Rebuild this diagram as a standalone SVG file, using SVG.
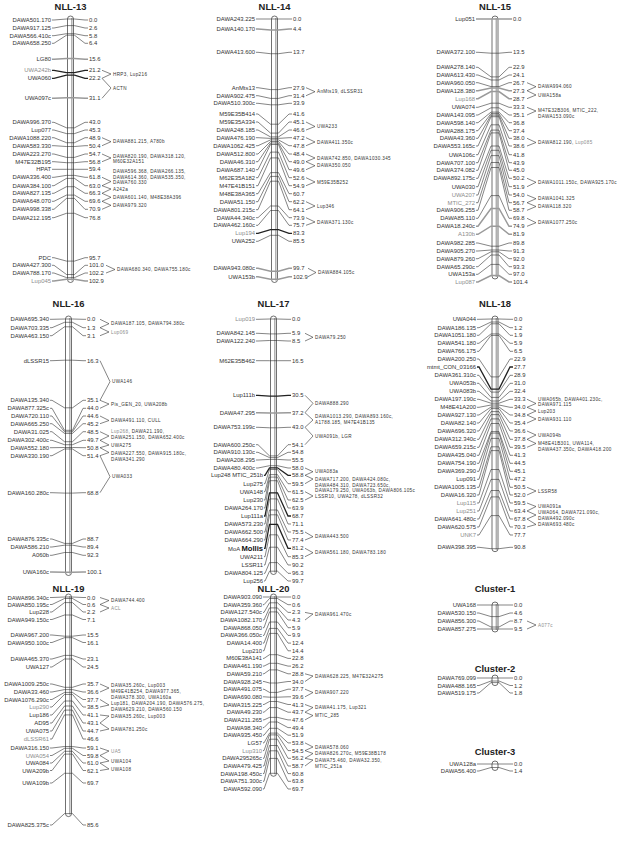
<svg xmlns="http://www.w3.org/2000/svg" width="618" height="846" viewBox="0 0 618 846">
<style>
.t{font-family:"Liberation Sans",Arial,sans-serif;font-size:5.9px;fill:#333}
.r{text-anchor:end}
.a{font-size:4.6px;letter-spacing:0.35px}
.g{fill:#8c8c8c}
.h{font-family:"Liberation Sans",Arial,sans-serif;font-size:9.4px;font-weight:bold;text-anchor:middle;fill:#222}
.c{fill:none;stroke:#333;stroke-width:0.6}
.k{fill:none;stroke:#222;stroke-width:1.3}
.q{fill:none;stroke:#9a9a9a;stroke-width:1.5}
.bar{fill:#fff;stroke:#333;stroke-width:0.7}
.bs{stroke:#b0b0b0;stroke-width:1.5}
</style>
<rect width="618" height="846" fill="#fff"/>

<!-- NLL-13 -->
<g id="nll-13">
<text class="h" x="70.5" y="10">NLL-13</text>
<rect class="bar" x="67.5" y="16" width="6" height="266.5" rx="3"/>
<line class="bs" x1="71.8" y1="18" x2="71.8" y2="280.5"/>
<g class="connectors">
<path class="c" d="M52 20h2L66.5 19H74.5L85 20h3M52 28h2L66.5 25.6H74.5L85 28h3M52 35.7h2L66.5 33.7H74.5L85 35.7h3M52 43.3h2L66.5 35.2H74.5L85 43.3h3M52 122.3h2L66.5 127.8H74.5L85 122.3h3M52 130h2L66.5 133.6H74.5L85 130h3M52 137.7h2L66.5 142.7H74.5L85 137.7h3M52 145.7h2L66.5 146.5H74.5L85 145.7h3M52 154h2L66.5 157.4H74.5L85 154h3M52 161.7h2L66.5 162.7H74.5L85 161.7h3M52 169.3h2L66.5 169.3H74.5L85 169.3h3M52 177.3h2L66.5 175.4H74.5L85 177.3h3M52 185.7h2L66.5 178.4H74.5L85 185.7h3M52 193.3h2L66.5 186.7H74.5L85 193.3h3M52 201.3h2L66.5 195.1H74.5L85 201.3h3M52 209.3h2L66.5 198.4H74.5L85 209.3h3M52 217.7h2L66.5 213.3H74.5L85 217.7h3M52 257.7h2L66.5 261.1H74.5L85 257.7h3M52 265.3h2L66.5 274.5H74.5L85 265.3h3M52 273h2L66.5 277.6H74.5L85 273h3"/>
<path class="k" d="M52 70.3h2L66.5 72.6H74.5L85 70.3h3M52 78.3h2L66.5 75.2H74.5L85 78.3h3"/>
<path class="q" d="M52 59.3h2L66.5 58.5H74.5L85 59.3h3M52 98.3h2L66.5 97.7H74.5L85 98.3h3M52 281h2L66.5 279.3H74.5L85 281h3"/>
<path class="c" d="M102 70.3L111 74L102 78.3M102 78.3L111 88L102 98.3M102 137.7L111 141.7L102 145.7M102 154L111 158L102 161.7M102 177.3L111 181.5L102 185.7M102 185.7L111 189L102 193.3M102 193.3L111 197.3L102 201.3M102 201.3L111 205.3L102 209.3M106 265.3L115 269.5L106 273"/>
</g>
<g class="t r">
<text x="51" y="22">DAWA501.170</text><text x="51" y="30">DAWA917.125</text><text x="51" y="37.7">DAWA566.410c</text><text x="51" y="45.3">DAWA658.250</text><text x="51" y="61.3">LG80</text><text x="51" y="72.3" class="g">UWA242b</text><text x="51" y="80.3">UWA060</text><text x="51" y="100.3">UWA097c</text><text x="51" y="124.3">DAWA996.370</text><text x="51" y="132">Lup077</text><text x="51" y="139.7">DAWA1088.220</text><text x="51" y="147.7">DAWA583.330</text><text x="51" y="156">DAWA223.270</text><text x="51" y="163.7">M47E32B195</text><text x="51" y="171.3">HPAT</text><text x="51" y="179.3">DAWA336.400</text><text x="51" y="187.7">DAWA384.100</text><text x="51" y="195.3">DAWA827.135</text><text x="51" y="203.3">DAWA648.070</text><text x="51" y="211.3">DAWA998.338</text><text x="51" y="219.7">DAWA212.195</text><text x="51" y="259.7">PDC</text><text x="51" y="267.3">DAWA427.300</text><text x="51" y="275">DAWA788.170</text><text x="51" y="283" class="g">Lup045</text>
</g>
<g class="t">
<text x="89" y="22">0.0</text><text x="89" y="30">2.6</text><text x="89" y="37.7">5.8</text><text x="89" y="45.3">6.4</text><text x="89" y="61.3">15.6</text><text x="89" y="72.3">21.2</text><text x="89" y="80.3">22.2</text><text x="89" y="100.3">31.1</text><text x="89" y="124.3">43.0</text><text x="89" y="132">45.3</text><text x="89" y="139.7">48.9</text><text x="89" y="147.7">50.4</text><text x="89" y="156">54.7</text><text x="89" y="163.7">56.8</text><text x="89" y="171.3">59.4</text><text x="89" y="179.3">61.8</text><text x="89" y="187.7">63.0</text><text x="89" y="195.3">66.3</text><text x="89" y="203.3">69.6</text><text x="89" y="211.3">70.9</text><text x="89" y="219.7">76.8</text><text x="89" y="259.7">95.7</text><text x="89" y="267.3">101.0</text><text x="89" y="275">102.2</text><text x="89" y="283">102.9</text>
</g>
<g class="t a">
<text x="113" y="75.6">HRP3, Lup216</text><text x="113" y="89.6">ACTN</text><text x="113" y="143.3">DAWA881.215, A780b</text><text x="113" y="157.6">DAWA820.190, DAWA318.120,</text><text x="113" y="163.3">M60E32A151</text><text x="113" y="173.1">DAWA596.368, DAWA266.135,</text><text x="113" y="178.7">DAWA614.360, DAWA535.350,</text><text x="113" y="184.2">DAWA760.330</text><text x="113" y="190.6">A242a</text><text x="113" y="198.9">DAWA601.140, M48E38A396</text><text x="113" y="206.9">DAWA979.320</text><text x="117" y="271.1">DAWA680.340, DAWA755.180c</text>
</g>
</g>

<!-- NLL-14 -->
<g id="nll-14">
<text class="h" x="274.5" y="10">NLL-14</text>
<rect class="bar" x="271.5" y="16" width="6" height="266.5" rx="3"/>
<line class="bs" x1="275.8" y1="18" x2="275.8" y2="280.5"/>
<g class="connectors">
<path class="c" d="M256 19h2L270.5 19H278.5L289 19h3M256 52.3h2L270.5 53.7H278.5L289 52.3h3M256 87.7h2L270.5 89.6H278.5L289 87.7h3M256 95.7h2L270.5 98.4H278.5L289 95.7h3M256 103.3h2L270.5 104.8H278.5L289 103.3h3M256 114h2L270.5 124.2H278.5L289 114h3M256 122h2L270.5 133.1H278.5L289 122h3M256 130h2L270.5 136.9H278.5L289 130h3M256 137.7h2L270.5 138.4H278.5L289 137.7h3M256 145.7h2L270.5 139.9H278.5L289 145.7h3M256 154h2L270.5 141.5H278.5L289 154h3M256 161.7h2L270.5 143H278.5L289 161.7h3M256 169.7h2L270.5 144.5H278.5L289 169.7h3M256 177.7h2L270.5 152.1H278.5L289 177.7h3M256 185.7h2L270.5 157.9H278.5L289 185.7h3M256 193.7h2L270.5 172.6H278.5L289 193.7h3M256 201.7h2L270.5 176.4H278.5L289 201.7h3M256 209.7h2L270.5 181.2H278.5L289 209.7h3M256 217.7h2L270.5 206H278.5L289 217.7h3M256 225.3h2L270.5 210.5H278.5L289 225.3h3M256 241.3h2L270.5 235.3H278.5L289 241.3h3"/>
<path class="k" d="M256 233.3h2L270.5 229.7H278.5L289 233.3h3"/>
<path class="q" d="M256 29h2L270.5 30.1H278.5L289 29h3M256 268.3h2L270.5 271.2H278.5L289 268.3h3M256 276.7h2L270.5 279.3H278.5L289 276.7h3"/>
<path class="c" d="M306 87.7L315 91.7L306 95.7M306 122L315 126.5L306 130M306 137.7L315 142L306 145.7M306 154L315 158L306 161.7M306 161.7L315 165.7L306 169.7M306 177.7L315 182L306 185.7M306 201.7L315 206L306 209.7M306 217.7L315 222L306 225.3M308 268.3L316 272.5L308 276.7"/>
</g>
<g class="t r">
<text x="255" y="21">DAWA243.225</text><text x="255" y="31">DAWA140.170</text><text x="255" y="54.3">DAWA413.600</text><text x="255" y="89.7">AnMts13</text><text x="255" y="97.7">DAWA902.475</text><text x="255" y="105.3">DAWA510.300c</text><text x="255" y="116">M59E35B414</text><text x="255" y="124">M59E35A334</text><text x="255" y="132">DAWA248.185</text><text x="255" y="139.7">DAWA476.190</text><text x="255" y="147.7">DAWA1062.425</text><text x="255" y="156">DAWA512.800</text><text x="255" y="163.7">DAWA46.310</text><text x="255" y="171.7">DAWA687.140</text><text x="255" y="179.7">M62E35A182</text><text x="255" y="187.7">M47E41B151</text><text x="255" y="195.7">M48E38A365</text><text x="255" y="203.7">DAWA51.150</text><text x="255" y="211.7">DAWA801.215c</text><text x="255" y="219.7">DAWA44.340c</text><text x="255" y="227.3">DAWA462.160c</text><text x="255" y="235.3" class="g">Lup194</text><text x="255" y="243.3">UWA252</text><text x="255" y="270.3">DAWA943.080c</text><text x="255" y="278.7">UWA153b</text>
</g>
<g class="t">
<text x="293" y="21">0.0</text><text x="293" y="31">4.4</text><text x="293" y="54.3">13.7</text><text x="293" y="89.7">27.9</text><text x="293" y="97.7">31.4</text><text x="293" y="105.3">33.9</text><text x="293" y="116">41.6</text><text x="293" y="124">45.1</text><text x="293" y="132">46.6</text><text x="293" y="139.7">47.2</text><text x="293" y="147.7">47.8</text><text x="293" y="156">48.4</text><text x="293" y="163.7">49.0</text><text x="293" y="171.7">49.6</text><text x="293" y="179.7">52.6</text><text x="293" y="187.7">54.9</text><text x="293" y="195.7">60.7</text><text x="293" y="203.7">62.2</text><text x="293" y="211.7">64.1</text><text x="293" y="219.7">73.9</text><text x="293" y="227.3">75.7</text><text x="293" y="235.3">83.3</text><text x="293" y="243.3">85.5</text><text x="293" y="270.3">99.7</text><text x="293" y="278.7">102.9</text>
</g>
<g class="t a">
<text x="317" y="93.3">AnMts19, dLSSR31</text><text x="317" y="128.1">UWA233</text><text x="317" y="143.6">DAWA411.350c</text><text x="317" y="159.6">DAWA742.850, DAWA1030.345</text><text x="317" y="167.3">DAWA350.050</text><text x="317" y="183.6">M59E35B252</text><text x="317" y="207.6">Lup346</text><text x="317" y="223.6">DAWA371.130c</text><text x="318" y="274.1">DAWA884.105c</text>
</g>
</g>

<!-- NLL-15 -->
<g id="nll-15">
<text class="h" x="495" y="10">NLL-15</text>
<rect class="bar" x="492" y="16" width="6" height="263" rx="3"/>
<line class="bs" x1="496.3" y1="18" x2="496.3" y2="277"/>
<g class="connectors">
<path class="c" d="M476 52.3h2L491 53.2H499L509 52.3h3M476 67.3h2L491 76.9H499L509 67.3h3M476 75h2L491 80H499L509 75h3M476 82.7h2L491 86.6H499L509 82.7h3M476 107.3h2L491 103.2H499L509 107.3h3M476 115h2L491 107.8H499L509 115h3M476 122.7h2L491 112.1H499L509 122.7h3M476 130.7h2L491 113.6H499L509 130.7h3M476 138.3h2L491 115.1H499L509 138.3h3M476 146h2L491 116.7H499L509 146h3M476 154.7h2L491 124.8H499L509 154.7h3M476 162.7h2L491 130.1H499L509 162.7h3M476 170.3h2L491 132.9H499L509 170.3h3M476 178.3h2L491 146H499L509 178.3h3M476 186.7h2L491 150.3H499L509 186.7h3M476 195h2L491 155.6H499L509 195h3M476 202.7h2L491 162.5H499L509 202.7h3M476 210.3h2L491 167.5H499L509 210.3h3M476 218.3h2L491 195.6H499L509 218.3h3M476 243h2L491 246.2H499L509 243h3M476 251h2L491 250H499L509 251h3M476 258.7h2L491 251.8H499L509 258.7h3M476 266.7h2L491 255H499L509 266.7h3M476 274.3h2L491 264.4H499L509 274.3h3"/>
<path class="q" d="M476 19h2L491 19H499L509 19h3M476 90.7h2L491 88.1H499L509 90.7h3M476 98.7h2L491 91.6H499L509 98.7h3M476 226.3h2L491 208.5H499L509 226.3h3M476 234.3h2L491 226.2H499L509 234.3h3M476 282h2L491 275.5H499L509 282h3"/>
<path class="c" d="M527 82.7L536 86.7L527 90.7M527 90.7L536 95L527 98.7M527 107.3L536 111L527 115M527 138.3L536 142.5L527 146M527 178.3L536 182.3L527 186.7M527 195L536 198.7L527 202.7M527 202.7L536 206.5L527 210.3M527 218.3L536 222.7L527 226.3"/>
</g>
<g class="t r">
<text x="475" y="21">Lup051</text><text x="475" y="54.3">DAWA372.100</text><text x="475" y="69.3">DAWA278.140</text><text x="475" y="77">DAWA613.430</text><text x="475" y="84.7">DAWA960.050</text><text x="475" y="92.7">DAWA128.380</text><text x="475" y="100.7" class="g">Lup168</text><text x="475" y="109.3">UWA074</text><text x="475" y="117">DAWA143.095</text><text x="475" y="124.7">DAWA598.140</text><text x="475" y="132.7">DAWA288.175</text><text x="475" y="140.3">DAWA43.360</text><text x="475" y="148">DAWA553.165c</text><text x="475" y="156.7">UWA106c</text><text x="475" y="164.7">DAWA707.100</text><text x="475" y="172.3">DAWA374.082</text><text x="475" y="180.3">DAWA892.175c</text><text x="475" y="188.7">UWA030</text><text x="475" y="197" class="g">UWA207</text><text x="475" y="204.7" class="g">MTIC_272</text><text x="475" y="212.3">DAWA906.255</text><text x="475" y="220.3">DAWA85.110</text><text x="475" y="228.3">DAWA18.240c</text><text x="475" y="236.3" class="g">A130b</text><text x="475" y="245">DAWA982.285</text><text x="475" y="253">DAWA905.270</text><text x="475" y="260.7">DAWA879.260</text><text x="475" y="268.7">DAWA65.290c</text><text x="475" y="276.3">UWA153a</text><text x="475" y="284" class="g">Lup087</text>
</g>
<g class="t">
<text x="513" y="21">0.0</text><text x="513" y="54.3">13.5</text><text x="513" y="69.3">22.9</text><text x="513" y="77">24.1</text><text x="513" y="84.7">26.7</text><text x="513" y="92.7">27.3</text><text x="513" y="100.7">28.7</text><text x="513" y="109.3">33.3</text><text x="513" y="117">35.1</text><text x="513" y="124.7">36.8</text><text x="513" y="132.7">37.4</text><text x="513" y="140.3">38.0</text><text x="513" y="148">38.6</text><text x="513" y="156.7">41.8</text><text x="513" y="164.7">43.9</text><text x="513" y="172.3">45.0</text><text x="513" y="180.3">50.2</text><text x="513" y="188.7">51.9</text><text x="513" y="197">54.0</text><text x="513" y="204.7">56.7</text><text x="513" y="212.3">58.7</text><text x="513" y="220.3">69.8</text><text x="513" y="228.3">74.9</text><text x="513" y="236.3">81.9</text><text x="513" y="245">89.8</text><text x="513" y="253">91.3</text><text x="513" y="260.7">92.0</text><text x="513" y="268.7">93.3</text><text x="513" y="276.3">97.0</text><text x="513" y="284">101.4</text>
</g>
<g class="t a">
<text x="538" y="88.3">DAWA994.060</text><text x="538" y="96.6">UWA158a</text><text x="538" y="111.6">M47E32B306, MTIC_222,</text><text x="538" y="117.6">DAWA153.090c</text><text x="538" y="144.1">DAWA812.190, <tspan class="g">Lup085</tspan></text><text x="538" y="183.9">DAWA1011.150c, DAWA925.170c</text><text x="538" y="200.3">DAWA1041.325</text><text x="538" y="208.1">DAWA118.320</text><text x="538" y="224.3">DAWA1077.250c</text>
</g>
</g>

<!-- NLL-16 -->
<g id="nll-16">
<text class="h" x="68.5" y="307">NLL-16</text>
<rect class="bar" x="65.5" y="316" width="6" height="259.5" rx="3"/>
<line class="bs" x1="69.8" y1="318" x2="69.8" y2="573.5"/>
<g class="connectors">
<path class="c" d="M50 319.3h2L64.5 319H72.5L83 319.3h3M50 327.7h2L64.5 322.3H72.5L83 327.7h3M50 335.7h2L64.5 326.8H72.5L83 335.7h3M50 360.7h2L64.5 360.2H72.5L83 360.7h3M50 400.3h2L64.5 407.8H72.5L83 400.3h3M50 408.3h2L64.5 430.3H72.5L83 408.3h3M50 416h2L64.5 431.8H72.5L83 416h3M50 423.7h2L64.5 433.4H72.5L83 423.7h3M50 431.7h2L64.5 441.7H72.5L83 431.7h3M50 440.3h2L64.5 444.7H72.5L83 440.3h3M50 447.7h2L64.5 447.5H72.5L83 447.7h3M50 455.7h2L64.5 449H72.5L83 455.7h3M50 492.7h2L64.5 493.1H72.5L83 492.7h3M50 539h2L64.5 543.4H72.5L83 539h3M50 547h2L64.5 545.2H72.5L83 547h3M50 555.3h2L64.5 552.5H72.5L83 555.3h3"/>
<path class="q" d="M50 572h2L64.5 572.3H72.5L83 572h3"/>
<path class="c" d="M100 319.3L109 323.7L100 327.7M100 327.7L109 332L100 335.7M100 360.7L110 381.7L100 400.3M100 400.3L109 404L100 408.3M100 416L109 420.5L100 423.7M100 431.7L109 436L100 440.3M100 440.3L109 445L100 447.7M100 447.7L109 452.5L100 455.7M100 455.7L110 476.7L100 492.7"/>
</g>
<g class="t r">
<text x="49" y="321.3">DAWA695.340</text><text x="49" y="329.7">DAWA703.335</text><text x="49" y="337.7">DAWA463.150</text><text x="49" y="362.7">dLSSR15</text><text x="49" y="402.3">DAWA135.340</text><text x="49" y="410.3">DAWA877.325c</text><text x="49" y="418">DAWA720.110</text><text x="49" y="425.7">DAWA665.250</text><text x="49" y="433.7">DAWA31.025</text><text x="49" y="442.3">DAWA302.400c</text><text x="49" y="449.7">DAWA552.180</text><text x="49" y="457.7">DAWA330.190</text><text x="49" y="494.7">DAWA160.280c</text><text x="49" y="541">DAWA876.335c</text><text x="49" y="549">DAWA586.210</text><text x="49" y="557.3">A060b</text><text x="49" y="574">UWA160c</text>
</g>
<g class="t">
<text x="87" y="321.3">0.0</text><text x="87" y="329.7">1.3</text><text x="87" y="337.7">3.1</text><text x="87" y="362.7">16.3</text><text x="87" y="402.3">35.1</text><text x="87" y="410.3">44.0</text><text x="87" y="418">44.6</text><text x="87" y="425.7">45.2</text><text x="87" y="433.7">48.5</text><text x="87" y="442.3">49.7</text><text x="87" y="449.7">50.8</text><text x="87" y="457.7">51.4</text><text x="87" y="494.7">68.8</text><text x="87" y="541">88.7</text><text x="87" y="549">89.4</text><text x="87" y="557.3">92.3</text><text x="87" y="574">100.1</text>
</g>
<g class="t a">
<text x="111" y="325.3">DAWA187.105, DAWA794.380c</text><text x="111" y="333.6" class="g">Lup069</text><text x="112" y="383.3">UWA146</text><text x="111" y="405.6">Pis_GEN_20, UWA208b</text><text x="111" y="422.1">DAWA491.110, CULL</text><text x="111" y="433.1"><tspan class="g">Lup268</tspan>, DAWA21.190,</text><text x="111" y="438.9">DAWA251.150, DAWA652.400c</text><text x="111" y="446.6">UWA275</text><text x="111" y="454.9">DAWA227.550, DAWA915.180c,</text><text x="111" y="460.9">DAWA341.290</text><text x="112" y="478.3">UWA033</text>
</g>
</g>

<!-- NLL-17 -->
<g id="nll-17">
<text class="h" x="273.5" y="307">NLL-17</text>
<rect class="bar" x="270.5" y="316" width="6" height="258.5" rx="3"/>
<line class="bs" x1="274.8" y1="318" x2="274.8" y2="572.5"/>
<g class="connectors">
<path class="c" d="M256 319.3h2L269.5 319H277.5L288 319.3h3M256 333.3h2L269.5 333.9H277.5L288 333.3h3M256 341h2L269.5 340.5H277.5L288 341h3M256 360.7h2L269.5 360.7H277.5L288 360.7h3M256 427.3h2L269.5 427.8H277.5L288 427.3h3M256 444.7h2L269.5 455.9H277.5L288 444.7h3M256 452.3h2L269.5 457.6H277.5L288 452.3h3M256 460h2L269.5 459.4H277.5L288 460h3M256 468h2L269.5 465.7H277.5L288 468h3M264 483.7h1L269.5 469.5H277.5L288 483.7h3M264 491.7h1L269.5 474.6H277.5L288 491.7h3M264 500h1L269.5 477.1H277.5L288 500h3M264 508h1L269.5 480.7H277.5L288 508h3M264 524h1L269.5 498.9H277.5L288 524h3M264 532h1L269.5 510H277.5L288 532h3M264 540h1L269.5 514.8H277.5L288 540h3M264 556.7h1L269.5 534.8H277.5L288 556.7h3M264 565h1L269.5 547.2H277.5L288 565h3M264 573.3h1L269.5 562.6H277.5L288 573.3h3M264 581h1L269.5 571.2H277.5L288 581h3"/>
<path class="k" d="M256 395.3h2L269.5 396.2H277.5L288 395.3h3M264 475.3h1L269.5 467.8H277.5L288 475.3h3M264 516h1L269.5 492.8H277.5L288 516h3M264 548.3h1L269.5 524.4H277.5L288 548.3h3"/>
<path class="q" d="M256 412.7h2L269.5 413.1H277.5L288 412.7h3"/>
<path class="c" d="M305 333.3L313 337.3L305 341M305 395.3L313 403.3L305 412.7M305 412.7L313 420L305 427.3M305 427.3L313 436L305 444.7M305 468L313 471.7L305 475.3M305 475.3L313 479L305 483.7M305 491.7L313 496L305 500M305 532L313 536.7L305 540M305 548.3L313 552.7L305 556.7"/>
</g>
<g class="t r">
<text x="255" y="321.3" class="g">Lup019</text><text x="255" y="335.3">DAWA842.145</text><text x="255" y="343">DAWA122.240</text><text x="255" y="362.7">M62E35B462</text><text x="255" y="397.3">Lup111b</text><text x="255" y="414.7">DAWA47.295</text><text x="255" y="429.3">DAWA753.199c</text><text x="255" y="446.7">DAWA600.250c</text><text x="255" y="454.3">DAWA910.130c</text><text x="255" y="462">DAWA208.295</text><text x="255" y="470">DAWA480.400c</text><text x="263" y="477.3">Lup248 MTIC_251b</text><text x="263" y="485.7">Lup275</text><text x="263" y="493.7">UWA148</text><text x="263" y="502">Lup230</text><text x="263" y="510">DAWA264.170</text><text x="263" y="518">Lup111a</text><text x="263" y="526">DAWA573.230</text><text x="263" y="534">DAWA662.500</text><text x="263" y="542">DAWA664.290</text><text x="263" y="550.8">MoA <tspan style="font-size:7.6px;font-weight:bold;fill:#111">Mollis</tspan></text><text x="263" y="558.7">UWA211</text><text x="263" y="567">LSSR11</text><text x="263" y="575.3">DAWA804.125</text><text x="263" y="583">Lup256</text>
</g>
<g class="t">
<text x="292" y="321.3">0.0</text><text x="292" y="335.3">5.9</text><text x="292" y="343">8.5</text><text x="292" y="362.7">16.5</text><text x="292" y="397.3">30.5</text><text x="292" y="414.7">37.2</text><text x="292" y="429.3">43.0</text><text x="292" y="446.7">54.1</text><text x="292" y="454.3">54.8</text><text x="292" y="462">55.5</text><text x="292" y="470">58.0</text><text x="292" y="477.3">58.8</text><text x="292" y="485.7">59.5</text><text x="292" y="493.7">61.5</text><text x="292" y="502">62.5</text><text x="292" y="510">63.9</text><text x="292" y="518">68.7</text><text x="292" y="526">71.1</text><text x="292" y="534">75.5</text><text x="292" y="542">77.4</text><text x="292" y="550.3">81.2</text><text x="292" y="558.7">85.3</text><text x="292" y="567">90.2</text><text x="292" y="575.3">96.3</text><text x="292" y="583">99.7</text>
</g>
<g class="t a">
<text x="315" y="338.9">DAWA79.250</text><text x="315" y="404.9">DAWA888.290</text><text x="315" y="418.3">DAWA1013.290, DAWA893.160c,</text><text x="315" y="423.9">A1788.185, M47E41B135</text><text x="315" y="437.6">UWA091b, LGR</text><text x="315" y="473.3">UWA083a</text><text x="315" y="480.6">DAWA717.200, DAWA424.080c,</text><text x="315" y="486.6">DAWA484.310, DAWA723.650c,</text><text x="315" y="492.3">DAWA179.250, UWA063b, DAWA806.105c</text><text x="315" y="497.9">LSSR10, UWA278, dLSSR32</text><text x="315" y="538.3">DAWA443.500</text><text x="315" y="554.3">DAWA561.180, DAWA783.180</text>
</g>
</g>

<!-- NLL-18 -->
<g id="nll-18">
<text class="h" x="495" y="307">NLL-18</text>
<rect class="bar" x="492" y="316" width="6" height="235.7" rx="3"/>
<line class="bs" x1="496.3" y1="318" x2="496.3" y2="549.7"/>
<g class="connectors">
<path class="c" d="M477 319.3h2L491 319H499L510 319.3h3M477 327.7h2L491 322H499L510 327.7h3M477 335.3h2L491 323.8H499L510 335.3h3M477 343.3h2L491 333.9H499L510 343.3h3M477 351.3h2L491 335.4H499L510 351.3h3M477 359h2L491 376.9H499L510 359h3M477 375.3h2L491 392.1H499L510 375.3h3M477 383.3h2L491 397.4H499L510 383.3h3M477 391.3h2L491 401H499L510 391.3h3M477 399.3h2L491 403.2H499L510 399.3h3M477 407.3h2L491 405H499L510 407.3h3M477 415h2L491 407H499L510 415h3M477 423h2L491 408.6H499L510 423h3M477 431h2L491 411.6H499L510 431h3M477 439.3h2L491 414.6H499L510 439.3h3M477 447.3h2L491 418.9H499L510 447.3h3M477 455.3h2L491 423.5H499L510 455.3h3M477 463.3h2L491 431.6H499L510 463.3h3M477 471.3h2L491 433.1H499L510 471.3h3M477 479.3h2L491 438.4H499L510 479.3h3M477 487.3h2L491 446.8H499L510 487.3h3M477 495h2L491 450.6H499L510 495h3M477 503h2L491 469.5H499L510 503h3M477 511h2L491 479.4H499L510 511h3M477 519h2L491 490.5H499L510 519h3M477 527h2L491 496.9H499L510 527h3M477 535h2L491 515.6H499L510 535h3M477 547.3h2L491 548.7H499L510 547.3h3"/>
<path class="k" d="M477 367h2L491 389.1H499L510 367h3"/>
<path class="c" d="M527 399.3L536 403.5L527 407.3M527 407.3L536 411L527 415M527 415L536 419L527 423M527 431L536 435L527 439.3M527 439.3L536 443.5L527 447.3M527 487.3L536 491L527 495M527 503L536 506.5L527 511M527 511L536 515L527 519M527 519L536 524.5L527 527"/>
</g>
<g class="t r">
<text x="476" y="321.3">UWA044</text><text x="476" y="329.7">DAWA186.135</text><text x="476" y="337.3">DAWA1051.180</text><text x="476" y="345.3">DAWA541.180</text><text x="476" y="353.3">DAWA766.175</text><text x="476" y="361">DAWA200.250</text><text x="476" y="369">mtmt_CON_03166</text><text x="476" y="377.3">DAWA361.310c</text><text x="476" y="385.3">UWA053b</text><text x="476" y="393.3">UWA083b</text><text x="476" y="401.3">DAWA197.190c</text><text x="476" y="409.3">M48E41A200</text><text x="476" y="417">DAWA927.130</text><text x="476" y="425">DAWA82.140</text><text x="476" y="433">DAWA696.320</text><text x="476" y="441.3">DAWA312.340c</text><text x="476" y="449.3">DAWA659.215c</text><text x="476" y="457.3">DAWA435.040</text><text x="476" y="465.3">DAWA754.190</text><text x="476" y="473.3">DAWA369.290</text><text x="476" y="481.3">Lup091</text><text x="476" y="489.3">DAWA1005.135</text><text x="476" y="497">DAWA16.320</text><text x="476" y="505" class="g">Lup115</text><text x="476" y="513" class="g">Lup251</text><text x="476" y="521">DAWA641.480c</text><text x="476" y="529">DAWA620.575</text><text x="476" y="537" class="g">UNK7</text><text x="476" y="549.3">DAWA398.395</text>
</g>
<g class="t">
<text x="514" y="321.3">0.0</text><text x="514" y="329.7">1.2</text><text x="514" y="337.3">1.9</text><text x="514" y="345.3">5.9</text><text x="514" y="353.3">6.5</text><text x="514" y="361">22.9</text><text x="514" y="369">27.7</text><text x="514" y="377.3">28.9</text><text x="514" y="385.3">31.0</text><text x="514" y="393.3">32.4</text><text x="514" y="401.3">33.3</text><text x="514" y="409.3">34.0</text><text x="514" y="417">34.8</text><text x="514" y="425">35.4</text><text x="514" y="433">36.6</text><text x="514" y="441.3">37.8</text><text x="514" y="449.3">39.5</text><text x="514" y="457.3">41.3</text><text x="514" y="465.3">44.5</text><text x="514" y="473.3">45.1</text><text x="514" y="481.3">47.2</text><text x="514" y="489.3">50.5</text><text x="514" y="497">52.0</text><text x="514" y="505">59.5</text><text x="514" y="513">63.4</text><text x="514" y="521">67.8</text><text x="514" y="529">70.3</text><text x="514" y="537">77.7</text><text x="514" y="549.3">90.8</text>
</g>
<g class="t a">
<text x="538" y="400.6">UWA065b, DAWA401.230c,</text><text x="538" y="406.1">DAWA971.115</text><text x="538" y="412.6">Lup203</text><text x="538" y="420.6">DAWA931.110</text><text x="538" y="436.6">UWA094b</text><text x="538" y="444.9">M48E41B301, UWA114,</text><text x="538" y="450.6">DAWA437.350c, DAWA418.200</text><text x="538" y="492.6">LSSR58</text><text x="538" y="508.1">UWA091a</text><text x="538" y="514.3">UWA064, DAWA721.090c,</text><text x="538" y="520.3">DAWA492.090c</text><text x="538" y="526.1">DAWA693.480c</text>
</g>
</g>

<g transform="translate(0,8)">
<!-- NLL-19 -->
<g id="nll-19">
<text class="h" x="68.5" y="584">NLL-19</text>
<rect class="bar" x="65.5" y="586" width="6" height="222.6" rx="3"/>
<line class="bs" x1="69.8" y1="588" x2="69.8" y2="806.6"/>
<g class="connectors">
<path class="c" d="M50 589.5h2L64.5 589H72.5L83 589.5h3M50 596.5h2L64.5 590.5H72.5L83 596.5h3M50 604h2L64.5 594.6H72.5L83 604h3M50 611.5h2L64.5 607H72.5L83 611.5h3M50 627h2L64.5 628.2H72.5L83 627h3M50 634.5h2L64.5 629.7H72.5L83 634.5h3M50 651h2L64.5 647.4H72.5L83 651h3M50 659h2L64.5 651H72.5L83 659h3M50 676h2L64.5 679.3H72.5L83 676h3M50 684h2L64.5 681.6H72.5L83 684h3M50 691.5h2L64.5 684.4H72.5L83 691.5h3M50 699h2L64.5 686.4H72.5L83 699h3M50 707h2L64.5 693H72.5L83 707h3M50 715h2L64.5 698H72.5L83 715h3M50 723h2L64.5 702.1H72.5L83 723h3M50 731h2L64.5 706.9H72.5L83 731h3M50 740h2L64.5 738.5H72.5L83 740h3M50 747.5h2L64.5 740.3H72.5L83 747.5h3M50 755h2L64.5 743.3H72.5L83 755h3M50 762.5h2L64.5 746.1H72.5L83 762.5h3M50 775h2L64.5 765.3H72.5L83 775h3M50 817h2L64.5 805.6H72.5L83 817h3"/>
<path class="c" d="M100 589.5L109 592.5L100 596.5M100 596.5L109 600L100 604M100 676L109 680L100 684M100 691.5L109 697L100 699M100 707L109 708L100 715M100 715L109 721L100 723M100 740L109 743L100 747.5M100 747.5L109 753L100 755M100 755L109 761L100 762.5"/>
</g>
<g class="t r">
<text x="49" y="591.5">DAWA896.340c</text><text x="49" y="598.5">DAWA850.195c</text><text x="49" y="606">Lup228</text><text x="49" y="613.5">DAWA949.150c</text><text x="49" y="629">DAWA967.200</text><text x="49" y="636.5">DAWA950.100c</text><text x="49" y="653">DAWA465.370</text><text x="49" y="661">UWA127</text><text x="49" y="678">DAWA1009.250c</text><text x="49" y="686">DAWA33.460</text><text x="49" y="693.5">DAWA1076.290c</text><text x="49" y="701" class="g">Lup290</text><text x="49" y="709">Lup186</text><text x="49" y="717">AD95</text><text x="49" y="725">UWA075</text><text x="49" y="733" class="g">dLSSR61</text><text x="49" y="742">DAWA316.150</text><text x="49" y="749.5" class="g">UWA054</text><text x="49" y="757">UWA084</text><text x="49" y="764.5">UWA209b</text><text x="49" y="777">UWA109b</text><text x="49" y="819">DAWA825.375c</text>
</g>
<g class="t">
<text x="87" y="591.5">0.0</text><text x="87" y="598.5">0.6</text><text x="87" y="606">2.2</text><text x="87" y="613.5">7.1</text><text x="87" y="629">15.5</text><text x="87" y="636.5">16.1</text><text x="87" y="653">23.1</text><text x="87" y="661">24.5</text><text x="87" y="678">35.7</text><text x="87" y="686">36.6</text><text x="87" y="693.5">37.7</text><text x="87" y="701">38.5</text><text x="87" y="709">41.1</text><text x="87" y="717">43.1</text><text x="87" y="725">44.7</text><text x="87" y="733">46.6</text><text x="87" y="742">59.1</text><text x="87" y="749.5">59.8</text><text x="87" y="757">61.0</text><text x="87" y="764.5">62.1</text><text x="87" y="777">69.7</text><text x="87" y="819">85.6</text>
</g>
<g class="t a">
<text x="111" y="594.1">DAWA744.400</text><text x="111" y="601.6" class="g">ACL</text><text x="111" y="678.6">DAWA35.260c, Lup003</text><text x="111" y="684.6">M49E41B254, DAWA977.365,</text><text x="111" y="690.6">DAWA378.300, UWA160a</text><text x="111" y="696.6">Lup181, DAWA204.190, DAWA576.275,</text><text x="111" y="702.6">DAWA629.210, DAWA560.150</text><text x="111" y="709.6">DAWA35.260c, Lup003</text><text x="111" y="722.6">DAWA781.250c</text><text x="111" y="744.6" class="g">UA5</text><text x="111" y="754.6">UWA104</text><text x="111" y="762.6">UWA108</text>
</g>
</g>

<!-- NLL-20 -->
<g id="nll-20">
<text class="h" x="273.5" y="584">NLL-20</text>
<rect class="bar" x="270.5" y="586" width="6" height="182.3" rx="3"/>
<line class="bs" x1="274.8" y1="588" x2="274.8" y2="766.3"/>
<g class="connectors">
<path class="c" d="M263 589h1L269.5 589H277.5L288 589h3M263 596.7h1L269.5 590.5H277.5L288 596.7h3M263 604.4h1L269.5 594.8H277.5L288 604.4h3M263 612h1L269.5 599.9H277.5L288 612h3M263 619.7h1L269.5 603.9H277.5L288 619.7h3M263 627.4h1L269.5 614H277.5L288 627.4h3M263 635.1h1L269.5 620.4H277.5L288 635.1h3M263 642.8h1L269.5 625.4H277.5L288 642.8h3M263 650.4h1L269.5 646.7H277.5L288 650.4h3M263 658.1h1L269.5 655.3H277.5L288 658.1h3M263 665.8h1L269.5 661.9H277.5L288 665.8h3M263 673.5h1L269.5 675H277.5L288 673.5h3M263 681.2h1L269.5 684.4H277.5L288 681.2h3M263 688.8h1L269.5 689.2H277.5L288 688.8h3M263 696.5h1L269.5 693.5H277.5L288 696.5h3M263 704.2h1L269.5 699.6H277.5L288 704.2h3M263 711.9h1L269.5 709.4H277.5L288 711.9h3M263 719.6h1L269.5 714H277.5L288 719.6h3M263 727.2h1L269.5 720.3H277.5L288 727.2h3M263 734.9h1L269.5 725.1H277.5L288 734.9h3M263 742.6h1L269.5 726.9H277.5L288 742.6h3M263 750.3h1L269.5 731.2H277.5L288 750.3h3M263 758h1L269.5 737.5H277.5L288 758h3M263 765.6h1L269.5 742.8H277.5L288 765.6h3M263 773.3h1L269.5 750.4H277.5L288 773.3h3M263 781h1L269.5 765.3H277.5L288 781h3"/>
<path class="c" d="M305 604.4L313 606L305 612M305 665.8L313 668L305 673.5M305 681.2L313 684.5L305 688.8M305 696.5L313 699.5L305 704.2M305 704.2L313 707.5L305 711.9M305 734.9L313 739L305 742.6M305 742.6L313 745.5L305 750.3M305 750.3L313 752L305 758"/>
</g>
<g class="t r">
<text x="262" y="591">DAWA903.090</text><text x="262" y="598.7">DAWA359.360</text><text x="262" y="606.4">DAWA127.540c</text><text x="262" y="614">DAWA1082.170</text><text x="262" y="621.7">DAWA868.050</text><text x="262" y="629.4">DAWA366.050c</text><text x="262" y="637.1">DAWA14.400</text><text x="262" y="644.8">Lup210</text><text x="262" y="652.4">M60E38A141</text><text x="262" y="660.1">DAWA461.190</text><text x="262" y="667.8">DAWA59.210</text><text x="262" y="675.5">DAWA928.245</text><text x="262" y="683.2">DAWA491.075</text><text x="262" y="690.8">DAWA690.080</text><text x="262" y="698.5">DAWA315.225</text><text x="262" y="706.2">DAWA49.230</text><text x="262" y="713.9">DAWA211.265</text><text x="262" y="721.6">DAWA98.340</text><text x="262" y="729.2">DAWA935.450</text><text x="262" y="736.9">LG57</text><text x="262" y="744.6" class="g">Lup310</text><text x="262" y="752.3">DAWA295265c</text><text x="262" y="760">DAWA479.425</text><text x="262" y="767.6">DAWA198.450c</text><text x="262" y="775.3">DAWA751.300c</text><text x="262" y="783">DAWA592.090</text>
</g>
<g class="t">
<text x="292" y="591">0.0</text><text x="292" y="598.7">0.6</text><text x="292" y="606.4">2.3</text><text x="292" y="614">4.3</text><text x="292" y="621.7">5.9</text><text x="292" y="629.4">9.9</text><text x="292" y="637.1">12.4</text><text x="292" y="644.8">14.4</text><text x="292" y="652.4">22.8</text><text x="292" y="660.1">26.2</text><text x="292" y="667.8">28.8</text><text x="292" y="675.5">34.0</text><text x="292" y="683.2">37.7</text><text x="292" y="690.8">39.6</text><text x="292" y="698.5">41.3</text><text x="292" y="706.2">43.7</text><text x="292" y="713.9">47.6</text><text x="292" y="721.6">49.4</text><text x="292" y="729.2">51.9</text><text x="292" y="736.9">53.8</text><text x="292" y="744.6">54.5</text><text x="292" y="752.3">56.2</text><text x="292" y="760">58.7</text><text x="292" y="767.6">60.8</text><text x="292" y="775.3">63.8</text><text x="292" y="783">69.7</text>
</g>
<g class="t a">
<text x="315" y="607.6">DAWA961.470c</text><text x="315" y="669.6">DAWA628.225, M47E32A275</text><text x="315" y="686.1">DAWA907.220</text><text x="315" y="701.1">DAWA41.175, Lup321</text><text x="315" y="709.1">MTIC_285</text><text x="315" y="740.6">DAWA578.060</text><text x="315" y="747.1">DAWA826.270c, M59E38B178</text><text x="315" y="753.6">DAWA75.460, DAWA32.350,</text><text x="315" y="759.6">MTIC_251a</text>
</g>
</g>

<!-- Cluster-1 -->
<g id="cluster-1">
<text class="h" x="495" y="584">Cluster-1</text>
<rect class="bar" x="492" y="594" width="6" height="30" rx="3"/>
<line class="bs" x1="496.3" y1="596" x2="496.3" y2="622"/>
<g class="connectors">
<path class="c" d="M477 597h2L491 597H499L510 597h3M477 605h2L491 608.6H499L510 605h3M477 613h2L491 619H499L510 613h3M477 621h2L491 621H499L510 621h3M527 613L536 617L527 621"/>
</g>
<g class="t r"><text x="476" y="599">UWA168</text><text x="476" y="607">DAWA530.150</text><text x="476" y="615">DAWA856.300</text><text x="476" y="623">DAWA857.275</text></g>
<g class="t"><text x="514" y="599">0.0</text><text x="514" y="607">4.6</text><text x="514" y="615">8.7</text><text x="514" y="623">9.5</text></g>
<g class="t a"><text x="538" y="618.6" class="g">A077c</text></g>
</g>

<!-- Cluster-2 -->
<g id="cluster-2">
<text class="h" x="495" y="664">Cluster-2</text>
<rect class="bar" x="492" y="667" width="6" height="10.6" rx="3"/>
<g class="connectors">
<path class="c" d="M477 670h2L491 670H499L510 670h3M477 677.5h2L491 673H499L510 677.5h3M477 685h2L491 674.6H499L510 685h3"/>
</g>
<g class="t r"><text x="476" y="672">DAWA769.099</text><text x="476" y="679.5">DAWA488.165</text><text x="476" y="687">DAWA519.175</text></g>
<g class="t"><text x="514" y="672">0.0</text><text x="514" y="679.5">1.2</text><text x="514" y="687">1.8</text></g>
</g>

<!-- Cluster-3 -->
<g id="cluster-3">
<text class="h" x="495" y="747">Cluster-3</text>
<rect class="bar" x="492" y="753" width="6" height="9.5" rx="3"/>
<g class="connectors">
<path class="c" d="M477 756h2L491 756H499L510 756h3M477 763h2L491 759.5H499L510 763h3"/>
</g>
<g class="t r"><text x="476" y="758">UWA128a</text><text x="476" y="765">DAWA56.400</text></g>
<g class="t"><text x="514" y="758">0.0</text><text x="514" y="765">1.4</text></g>
</g>
</g>
</svg>
